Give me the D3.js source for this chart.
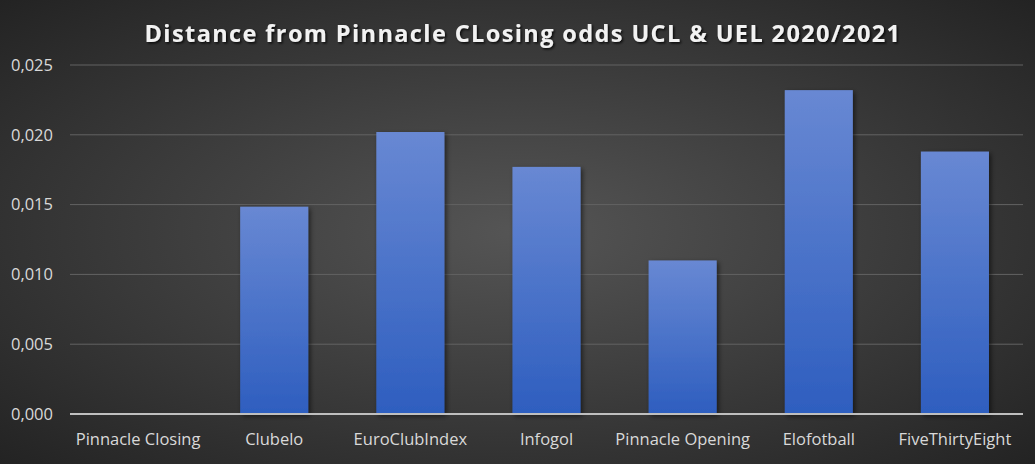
<!DOCTYPE html>
<html>
<head>
<meta charset="utf-8">
<script src="https://cdn.jsdelivr.net/npm/d3@7"></script>
<style>
  html, body { margin: 0; padding: 0; background: #262626; }
  svg { display: block; }
</style>
</head>
<body>
<svg id="chart"></svg>
<script>
// chart data
const categories = ['Pinnacle Closing', 'Clubelo', 'EuroClubIndex', 'Infogol', 'Pinnacle Opening', 'Elofotball', 'FiveThirtyEight'];
const distances = [0, 0.01485, 0.0202, 0.0177, 0.0110, 0.0232, 0.0188];
const yTicks = [0, 0.005, 0.010, 0.015, 0.020, 0.025];
const title = 'Distance from Pinnacle CLosing odds UCL & UEL 2020/2021';

const w = 1035, h = 464;
const margin = {top: 65, right: 12, bottom: 50, left: 70};

const svg = d3.select('#chart').attr('width', w).attr('height', h);
const defs = svg.append('defs');

// background: excel-ish radial gradient
const bg = defs.append('radialGradient').attr('id', 'bg')
  .attr('cx', '50%').attr('cy', '50%').attr('r', '75%');
bg.append('stop').attr('offset', '0%').attr('stop-color', '#555555');
bg.append('stop').attr('offset', '100%').attr('stop-color', '#202020');

const barGrad = defs.append('linearGradient').attr('id', 'bar')
  .attr('x1', 0).attr('y1', 0).attr('x2', 0).attr('y2', 1);
barGrad.append('stop').attr('offset', '0%').attr('stop-color', '#6888d3');
barGrad.append('stop').attr('offset', '100%').attr('stop-color', '#2e5ebf');

const shadow = defs.append('filter').attr('id', 'shadow')
  .attr('x', '-20%').attr('y', '-20%').attr('width', '150%').attr('height', '140%');
shadow.append('feDropShadow').attr('dx', 2).attr('dy', 2).attr('stdDeviation', 2.5)
  .attr('flood-color', '#000').attr('flood-opacity', 0.55);

const textShadow = defs.append('filter').attr('id', 'tshadow')
  .attr('x', '-5%').attr('y', '-30%').attr('width', '110%').attr('height', '160%');
textShadow.append('feDropShadow').attr('dx', 1.5).attr('dy', 1.5).attr('stdDeviation', 1.2)
  .attr('flood-color', '#000').attr('flood-opacity', 0.8);

svg.append('rect').attr('width', w).attr('height', h).attr('fill', 'url(#bg)');

// scales
const x = d3.scaleBand().domain(categories)
  .range([margin.left, w - margin.right]).paddingInner(0.5).paddingOuter(0.25);
const y = d3.scaleLinear().domain([0, 0.025]).range([h - margin.bottom, margin.top]);

// gridlines
svg.append('g')
  .selectAll('line').data(yTicks.filter(d => d > 0)).join('line')
  .attr('x1', margin.left).attr('x2', w - margin.right)
  .attr('y1', d => y(d)).attr('y2', d => y(d))
  .attr('stroke', '#636363').attr('stroke-width', 1);

// bars
svg.append('g')
  .selectAll('rect').data(distances).join('rect')
  .attr('x', (d, i) => x(categories[i]))
  .attr('y', d => y(d))
  .attr('width', x.bandwidth())
  .attr('height', d => y(0) - y(d))
  .attr('fill', 'url(#bar)')
  .attr('filter', d => d > 0 ? 'url(#shadow)' : null);

// baseline
svg.append('line')
  .attr('x1', margin.left).attr('x2', w - margin.right)
  .attr('y1', y(0)).attr('y2', y(0))
  .attr('stroke', '#bfbfbf').attr('stroke-width', 2);

const fmt = d => d3.format('.3f')(d).replace('.', ',');

// y axis
const yAxis = d3.axisLeft(y).tickValues(yTicks).tickFormat(fmt).tickSize(0).tickPadding(17);
const gy = svg.append('g').attr('transform', `translate(${margin.left},0)`).call(yAxis);
gy.select('.domain').remove();
gy.selectAll('text')
  .attr('fill', '#d9d9d9').style('font-family', 'Open Sans, sans-serif').style('font-size', '16.5px');

// x axis
const xAxis = d3.axisBottom(x).tickSize(0).tickPadding(19);
const gx = svg.append('g').attr('transform', `translate(0,${y(0)})`).call(xAxis);
gx.select('.domain').remove();
gx.selectAll('text')
  .attr('fill', '#d9d9d9').style('font-family', 'Open Sans, sans-serif').style('font-size', '16.5px');

// title
svg.append('text')
  .attr('x', 523).attr('y', 42)
  .attr('text-anchor', 'middle')
  .attr('fill', '#f2f2f2')
  .attr('filter', 'url(#tshadow)')
  .style('font-family', 'Open Sans, sans-serif')
  .style('font-weight', 'bold')
  .style('font-size', '23.5px')
  .style('letter-spacing', '1.4px')
  .text(title);
</script>
</body>
</html>
